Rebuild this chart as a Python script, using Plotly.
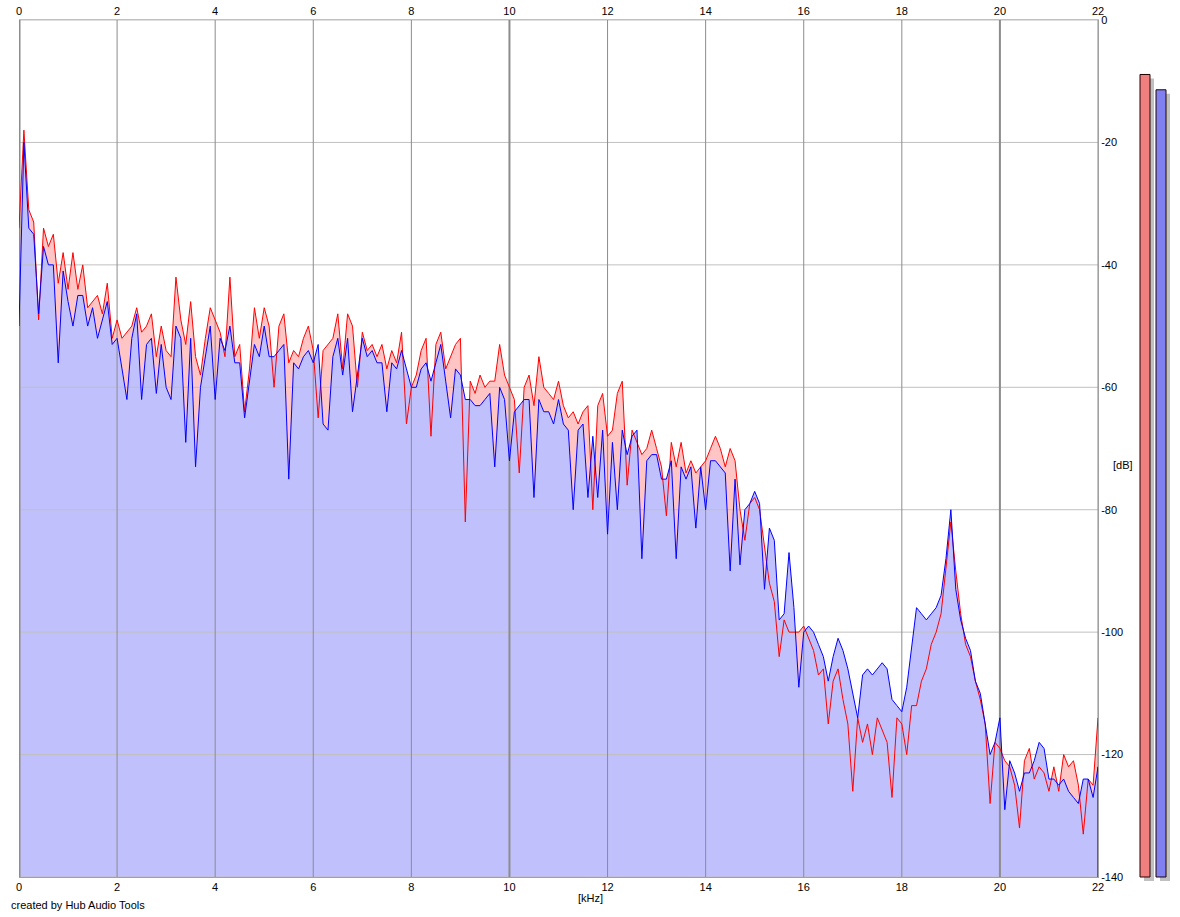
import plotly.graph_objects as go

# ---------------- data ----------------
freq_khz = [round(i * 0.1, 1) for i in range(221)]

left_db = [
    -34, -18, -31, -33, -49, -34, -37, -35, -43, -38,
    -44, -38, -44, -40, -47, -46, -45, -48, -43, -52,
    -49, -52, -51, -50, -47, -51, -50, -48, -55, -50,
    -54, -55, -42, -49, -53, -46, -55, -58, -52, -47,
    -49, -51, -55, -42, -55, -53, -64, -57, -47, -52,
    -47, -50, -60, -50, -48, -56, -54, -55, -52, -50,
    -54, -65, -54, -53, -52, -48, -57, -48, -50, -60,
    -51, -54, -53, -55, -53, -57, -54, -56, -51, -66,
    -60, -58, -54, -52, -68, -53, -51, -57, -55, -53,
    -52, -82, -59, -61, -58, -60, -59, -59, -53, -58,
    -60, -62, -74, -60, -58, -63, -55, -60, -61, -62,
    -59, -63, -65, -64, -66, -64, -63, -80, -63, -61,
    -68, -67, -61, -59, -76, -67, -69, -71, -70, -67,
    -70, -73, -81, -69, -73, -69, -74, -72, -74, -73,
    -72, -70, -68, -70, -73, -70, -72, -80, -85, -79,
    -78, -80, -86, -92, -95, -104, -98, -100, -100, -100,
    -99, -101, -103, -107, -106, -115, -108, -106, -111, -115,
    -126, -114, -118, -115, -120, -114, -116, -118, -127, -114,
    -115, -120, -112, -112, -108, -106, -102, -100, -97, -90,
    -82, -90, -97, -102, -104, -108, -111, -115, -128, -118,
    -119, -121, -122, -125, -132, -121, -119, -124, -122, -123,
    -126, -122, -126, -120, -122, -121, -125, -133, -124, -125,
    -114,
]

right_db = [
    -50, -20, -34, -35, -48, -37, -40, -40, -56, -41,
    -46, -50, -45, -45, -50, -47, -52, -49, -46, -53,
    -52, -57, -62, -52, -48, -62, -53, -52, -61, -53,
    -60, -62, -50, -52, -69, -52, -73, -60, -55, -50,
    -62, -52, -54, -50, -56, -56, -65, -59, -53, -55,
    -50, -55, -55, -54, -53, -75, -56, -57, -55, -54,
    -56, -53, -66, -67, -55, -52, -58, -52, -64, -58,
    -52, -55, -54, -56, -56, -64, -56, -57, -54, -57,
    -60, -60, -57, -56, -59, -56, -53, -59, -65, -57,
    -58, -62, -62, -63, -63, -62, -61, -73, -60, -62,
    -72, -64, -63, -62, -62, -78, -62, -64, -64, -66,
    -62, -66, -67, -80, -67, -66, -78, -68, -78, -67,
    -84, -69, -80, -67, -71, -68, -67, -88, -72, -71,
    -71, -75, -75, -72, -88, -73, -75, -73, -83, -73,
    -80, -72, -72, -73, -74, -90, -75, -89, -80, -79,
    -77, -79, -93, -83, -85, -98, -97, -87, -96, -109,
    -100, -99, -100, -102, -104, -108, -104, -101, -103, -106,
    -110, -114, -107, -106, -107, -106, -105, -106, -111, -112,
    -113, -109, -102, -96, -97, -98, -97, -96, -94, -88,
    -80, -93, -98, -101, -103, -108, -110, -115, -120, -118,
    -114, -129, -121, -123, -126, -123, -123, -121, -118, -119,
    -124, -124, -125, -124, -126, -127, -128, -124, -124, -127,
    -122,
]

x_ticks = [0, 2, 4, 6, 8, 10, 12, 14, 16, 18, 20, 22]
y_ticks = [0, -20, -40, -60, -80, -100, -120, -140]
meter_levels = [-8.9, -11.4]          # left (red), right (blue) peak meters
meter_colors = ["#f08080", "#8080f0"]

X_MIN, X_MAX = 0, 22
Y_MIN, Y_MAX = -140, 0

FONT = "Liberation Sans, Arial, sans-serif"

# ---------------- layout geometry ----------------
W, H = 1180, 917
ML, MR, MT, MB = 19, 82, 20, 40
PW = W - ML - MR
PH = H - MT - MB


def px_to_paper_x(px):
    return (px - ML) / PW


def px_to_paper_y(py):
    return (H - MB - py) / PH


fig = go.Figure()

baseline = [Y_MIN] * len(freq_khz)

# red fill (pink) under left channel
fig.add_trace(go.Scatter(x=freq_khz, y=baseline, mode="lines",
                         line=dict(width=0), hoverinfo="skip", showlegend=False))
fig.add_trace(go.Scatter(x=freq_khz, y=left_db, mode="lines", fill="tonexty",
                         fillcolor="#ffc4c4", line=dict(width=0),
                         hoverinfo="skip", showlegend=False))
# blue fill (lavender) under right channel
fig.add_trace(go.Scatter(x=freq_khz, y=baseline, mode="lines",
                         line=dict(width=0), hoverinfo="skip", showlegend=False))
fig.add_trace(go.Scatter(x=freq_khz, y=right_db, mode="lines", fill="tonexty",
                         fillcolor="#c0c0fc", line=dict(width=0),
                         hoverinfo="skip", showlegend=False))

# grid lines drawn above the fills, below the curves
hx, hy = [], []
for t in y_ticks:
    hx += [X_MIN, X_MAX, None]
    hy += [t, t, None]
fig.add_trace(go.Scatter(x=hx, y=hy, mode="lines", line=dict(color="#c0c0c0", width=1),
                         hoverinfo="skip", showlegend=False))
for t in x_ticks:
    w = 2 if t in (10, 20) else 1
    if t == 0:
        w = 3
    fig.add_trace(go.Scatter(x=[t, t], y=[Y_MIN, Y_MAX], mode="lines",
                             line=dict(color="#8c8c8c", width=w),
                             hoverinfo="skip", showlegend=False))

# curves
fig.add_trace(go.Scatter(x=freq_khz, y=left_db, mode="lines",
                         line=dict(color="#ff0000", width=1), name="L",
                         showlegend=False))
fig.add_trace(go.Scatter(x=freq_khz, y=right_db, mode="lines",
                         line=dict(color="#0000ff", width=1), name="R",
                         showlegend=False))
# right edge of the blue trace drops to the floor
fig.add_trace(go.Scatter(x=[freq_khz[-1], freq_khz[-1]], y=[right_db[-1], Y_MIN],
                         mode="lines", line=dict(color="#0000ff", width=1),
                         hoverinfo="skip", showlegend=False))

# invisible trace to activate the top axis
fig.add_trace(go.Scatter(x=[X_MIN, X_MAX], y=[Y_MIN, Y_MIN], xaxis="x2", mode="lines",
                         line=dict(width=0), hoverinfo="skip", showlegend=False))

# peak meters (shapes in paper coords)
bar_px = [(1140, 1150), (1156, 1166)]
shapes = []
for (x0, x1), lvl, col in zip(bar_px, meter_levels, meter_colors):
    ytop = (lvl - Y_MIN) / (Y_MAX - Y_MIN)
    shapes.append(dict(type="rect", xref="paper", yref="paper",
                       x0=px_to_paper_x(x0 + 4), x1=px_to_paper_x(x1 + 4),
                       y0=px_to_paper_y(H - MB + 4), y1=ytop - 4 / PH,
                       fillcolor="#c0c0c0", line=dict(width=0), layer="above"))
    shapes.append(dict(type="rect", xref="paper", yref="paper",
                       x0=px_to_paper_x(x0), x1=px_to_paper_x(x1),
                       y0=0, y1=ytop,
                       fillcolor=col, line=dict(color="#200000", width=1), layer="above"))

annotations = [
    dict(text="[kHz]", xref="paper", yref="paper", x=px_to_paper_x(590),
         y=px_to_paper_y(898), xanchor="center", yanchor="middle", showarrow=False,
         font=dict(family=FONT, size=11, color="#000000")),
    dict(text="[dB]", xref="paper", yref="paper", x=px_to_paper_x(1123),
         y=px_to_paper_y(465), xanchor="center", yanchor="middle", showarrow=False,
         font=dict(family=FONT, size=11, color="#000000")),
    dict(text="created by Hub Audio Tools", xref="paper", yref="paper",
         x=px_to_paper_x(9), y=px_to_paper_y(905), xanchor="left", yanchor="middle",
         showarrow=False, font=dict(family=FONT, size=11, color="#000000")),
]

axis_font = dict(family=FONT, size=11, color="#000000")

fig.update_layout(
    width=W, height=H,
    margin=dict(l=ML, r=MR, t=MT, b=MB, pad=0, autoexpand=False),
    paper_bgcolor="#ffffff", plot_bgcolor="#ffffff",
    showlegend=False, hovermode=False,
    xaxis=dict(range=[X_MIN, X_MAX], tickvals=x_ticks, ticktext=[str(t) for t in x_ticks],
               showgrid=False, zeroline=False, showline=True, linecolor="#a0a0a0",
               linewidth=1, ticks="", tickfont=axis_font, fixedrange=True,
               automargin=False),
    xaxis2=dict(range=[X_MIN, X_MAX], overlaying="x", side="top", tickvals=x_ticks,
                ticktext=[str(t) for t in x_ticks], showgrid=False, zeroline=False,
                showline=True, linecolor="#c0c0c0", linewidth=1, ticks="",
                tickfont=axis_font, fixedrange=True, automargin=False),
    yaxis=dict(range=[Y_MIN, Y_MAX], side="right", tickvals=y_ticks,
               ticktext=[str(t) for t in y_ticks], showgrid=False, zeroline=False,
               showline=True, linecolor="#a0a0a0", linewidth=1, mirror=False,
               ticks="", tickfont=axis_font, fixedrange=True, automargin=False),
    shapes=shapes,
    annotations=annotations,
)

fig.write_html("out.html")
